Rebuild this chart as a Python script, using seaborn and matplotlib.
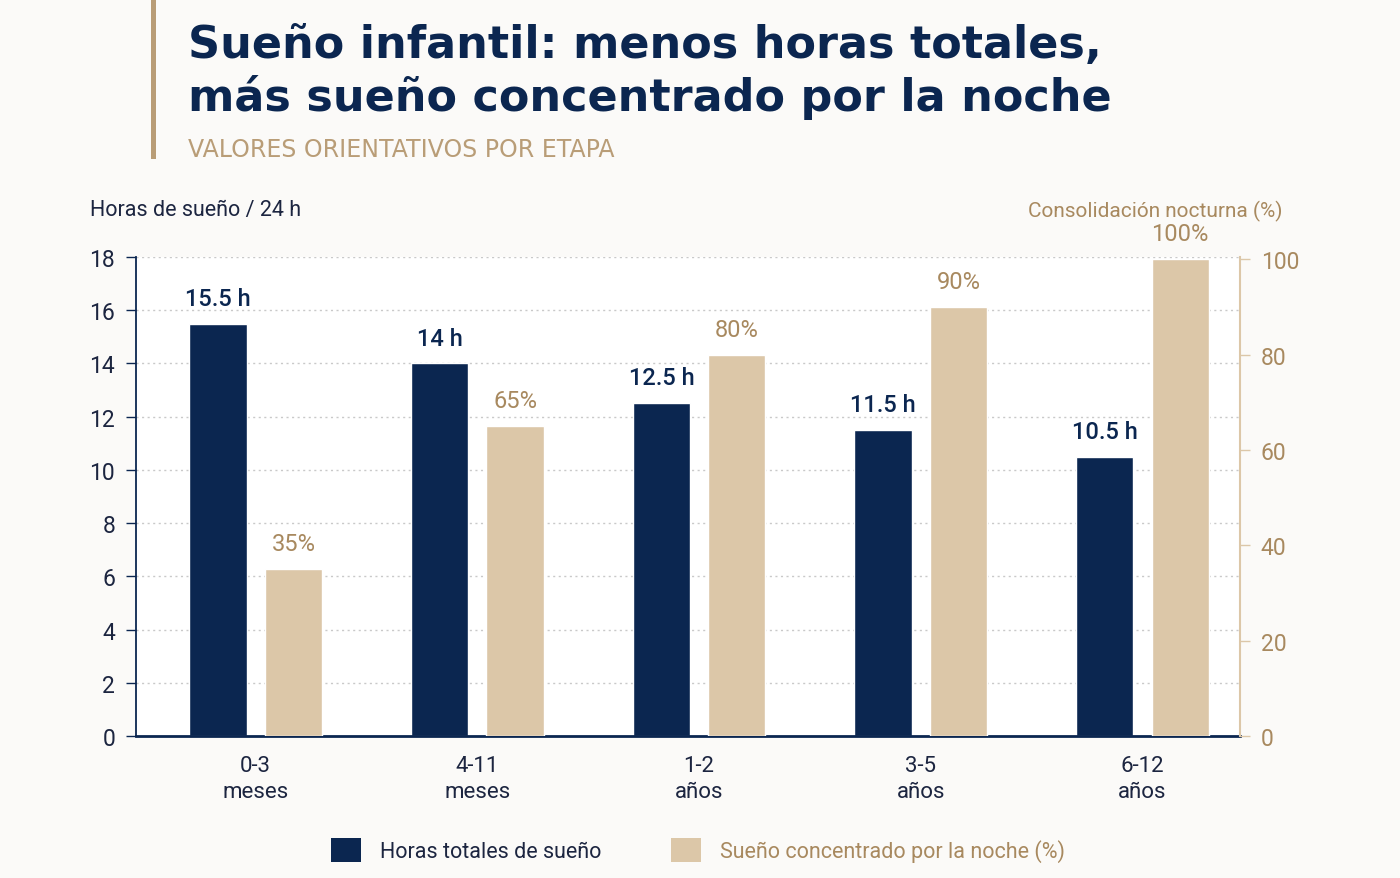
import numpy as np
import pandas as pd
import seaborn as sns
import matplotlib.pyplot as plt
from matplotlib.patches import Patch, Rectangle

# data
etapas = ["0-3\nmeses", "4-11\nmeses", "1-2\naños", "3-5\naños", "6-12\naños"]
horas = [15.5, 14, 12.5, 11.5, 10.5]
noche = [35, 65, 80, 90, 100]
serie_horas = "Horas totales de sueño"
serie_noche = "Sueño concentrado por la noche (%)"

NAVY = "#0b2650"
BEIGE = "#dcc7a8"
GOLD = "#a8895f"
GOLD_LIGHT = "#b99d77"
BG = "#fbfaf8"

sns.set_theme(style="white")
plt.rcParams['font.family'] = ['Roboto', 'DejaVu Sans']

df = pd.DataFrame({
    "etapa": etapas * 2,
    "serie": [serie_horas] * len(etapas) + [serie_noche] * len(etapas),
    "valor": horas + noche,
})

fig = plt.figure(figsize=(14, 8.79), dpi=100, facecolor=BG)
ax = fig.add_axes([136 / 1400, 1 - 737 / 879, (1240 - 136) / 1400, (737 - 258) / 879])
ax.set_facecolor("white")
ax2 = ax.twinx()

common = dict(x="etapa", y="valor", hue="serie", hue_order=[serie_horas, serie_noche],
              palette=[NAVY, BEIGE], width=0.68, gap=0.24, dodge=True, legend=False,
              saturation=1)
sns.barplot(data=df[df.serie == serie_horas], ax=ax, **common)
sns.barplot(data=df[df.serie == serie_noche], ax=ax2, **common)

ax.set_xlim(-0.54, 4.44)
ax.set_ylim(0, 18)
ax2.set_ylim(0, 100.5)
ax.set_yticks(range(0, 19, 2))
ax2.set_yticks(range(0, 101, 20))

# grid
for y in range(2, 19, 2):
    ax.axhline(y, color="#c9c9c9", lw=1, ls=(0, (1.5, 2.5)), zorder=0)

# spines
for s in ["top", "right"]:
    ax.spines[s].set_visible(False)
for s in ["top", "left", "bottom"]:
    ax2.spines[s].set_visible(False)
ax.spines["left"].set_color(NAVY)
ax.spines["left"].set_linewidth(1.3)
ax.spines["bottom"].set_color(NAVY)
ax.spines["bottom"].set_linewidth(2)
ax2.spines["right"].set_color(BEIGE)
ax2.spines["right"].set_linewidth(1.5)

ax.tick_params(axis="y", colors=NAVY, labelsize=16.5, length=7, width=1, pad=8, left=True)
ax.tick_params(axis="x", colors=NAVY, labelsize=16, length=0, pad=14)
ax2.tick_params(axis="y", colors=BEIGE, labelcolor=GOLD, labelsize=16.5, length=7, width=1, pad=8, right=True)
for lab in ax.get_yticklabels():
    lab.set_color("#1c2540")
ax.set_xlabel("")
ax.set_ylabel("")
ax2.set_ylabel("")
for lab in ax.get_xticklabels():
    lab.set_linespacing(1.3)
    lab.set_color("#1c2540")

# value labels
ax.bar_label(ax.containers[0], labels=[f"{h:g} h" for h in horas], padding=10,
             fontsize=17, color=NAVY, fontweight="medium")
ax2.bar_label(ax2.containers[-1], labels=[f"{p}%" for p in noche], padding=10,
              fontsize=17, color=GOLD)

# axis titles
fig.text(90 / 1400, 1 - 211 / 879, "Horas de sueño / 24 h", fontsize=15.5, color="#1c2540", va="center")
fig.text(1282 / 1400, 1 - 211 / 879, "Consolidación nocturna (%)", fontsize=15, color=GOLD,
         va="center", ha="right")

# header
fig.add_artist(Rectangle((151 / 1400, 1 - 160 / 879), 5 / 1400, 160 / 879,
                         transform=fig.transFigure, color=GOLD_LIGHT, lw=0))
fig.text(188 / 1400, 1 - 46 / 879, "Sueño infantil: menos horas totales,", fontsize=32,
         fontweight="heavy", color=NAVY, va="center", family=["DejaVu Sans"])
fig.text(188 / 1400, 1 - 97 / 879, "más sueño concentrado por la noche", fontsize=32,
         fontweight="heavy", color=NAVY, va="center", family=["DejaVu Sans"])
fig.text(188 / 1400, 1 - 150 / 879, "VALORES ORIENTATIVOS POR ETAPA", fontsize=17,
         color=GOLD_LIGHT, va="center", family=["DejaVu Sans"])

# legend
handles = [Patch(facecolor=NAVY, edgecolor="none"), Patch(facecolor=BEIGE, edgecolor="none")]
leg = fig.legend(handles, [serie_horas, serie_noche], loc="center",
                 bbox_to_anchor=(698 / 1400, 1 - 851 / 879), ncol=2, frameon=False,
                 fontsize=15.5, handlelength=1.4, handleheight=1.4, handletextpad=0.9,
                 columnspacing=3.2)
leg.get_texts()[0].set_color("#1c2540")
leg.get_texts()[1].set_color(GOLD)

fig.savefig("out.png", dpi=100, facecolor=BG)
